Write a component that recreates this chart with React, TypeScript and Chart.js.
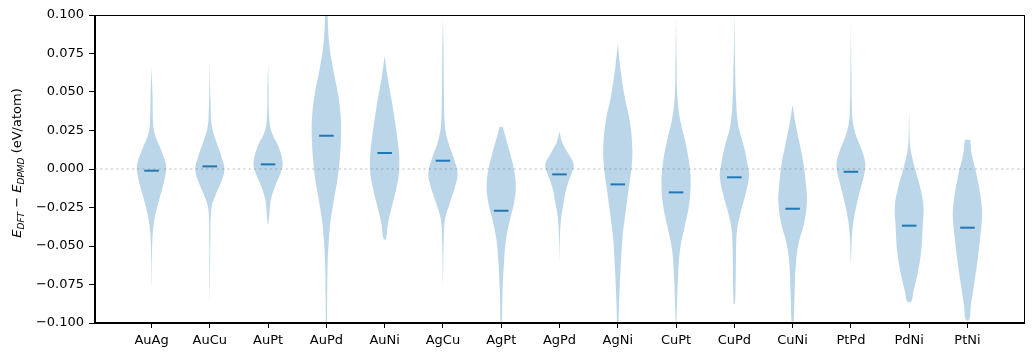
import { useEffect, useRef } from 'react';
import { Chart, registerables } from 'chart.js';

Chart.register(...registerables);

const categories = ['AuAg', 'AuCu', 'AuPt', 'AuPd', 'AuNi', 'AgCu', 'AgPt', 'AgPd', 'AgNi', 'CuPt', 'CuPd', 'CuNi', 'PtPd', 'PdNi', 'PtNi'];

const medians = [-0.0011, 0.0017, 0.003, 0.0216, 0.0104, 0.0054, -0.0271, -0.0035, -0.01, -0.0152, -0.0054, -0.0258, -0.0018, -0.0368, -0.0381];

// violin profiles: [value, relative width (0..1)] from top to bottom
const AuAg = [[0.066, 0], [0.047, 0.07], [0.028, 0.12], [0.021, 0.28], [0.0125, 0.65], [0.002, 1.0], [-0.005, 0.93], [-0.0156, 0.65], [-0.026, 0.35], [-0.035, 0.16], [-0.048, 0.05], [-0.076, 0]];
const AuCu = [[0.071, 0], [0.043, 0.05], [0.028, 0.14], [0.017, 0.47], [0.008, 0.8], [-0.0005, 1.0], [-0.009, 0.75], [-0.018, 0.35], [-0.026, 0.1], [-0.048, 0.035], [-0.07, 0.02], [-0.089, 0]];
const AuPt = [[0.07, 0], [0.054, 0.035], [0.032, 0.09], [0.023, 0.28], [0.015, 0.7], [0.004, 1.0], [-0.0026, 0.85], [-0.0113, 0.47], [-0.02, 0.19], [-0.031, 0.07], [-0.0362, 0]];
const AuPd = [[0.106, 0.06], [0.082, 0.19], [0.0645, 0.47], [0.0493, 0.79], [0.0342, 0.98], [0.0212, 1.0], [0.0082, 0.93], [-0.0048, 0.79], [-0.0178, 0.56], [-0.031, 0.33], [-0.0437, 0.19], [-0.061, 0.09], [-0.083, 0.05], [-0.1, 0.035], [-0.104, 0]];
const AuNi = [[0.0736, 0], [0.06, 0.19], [0.043, 0.51], [0.0255, 0.79], [0.0104, 0.98], [-0.0005, 1.0], [-0.0091, 0.88], [-0.022, 0.56], [-0.035, 0.23], [-0.0455, 0.08]];
const AgCu = [[0.098, 0], [0.082, 0.035], [0.049, 0.07], [0.028, 0.14], [0.017, 0.37], [0.0082, 0.7], [-0.0026, 1.0], [-0.0113, 0.84], [-0.022, 0.47], [-0.033, 0.14], [-0.048, 0.05], [-0.074, 0]];
const AgPt = [[0.0272, 0.11], [0.0212, 0.28], [0.0104, 0.6], [-0.0005, 0.88], [-0.0113, 1.0], [-0.022, 0.88], [-0.033, 0.6], [-0.046, 0.33], [-0.061, 0.19], [-0.08, 0.09], [-0.1, 0.045], [-0.104, 0]];
const AgPd = [[0.0244, 0], [0.017, 0.19], [0.0104, 0.58], [0.0028, 0.98], [-0.0026, 0.84], [-0.0113, 0.51], [-0.022, 0.28], [-0.031, 0.12], [-0.044, 0.035], [-0.059, 0]];
const AgNi = [[0.081, 0], [0.0645, 0.19], [0.047, 0.47], [0.03, 0.84], [0.0125, 1.0], [-0.0005, 0.93], [-0.0134, 0.74], [-0.0264, 0.56], [-0.044, 0.33], [-0.0654, 0.19], [-0.087, 0.09], [-0.1, 0.05], [-0.104, 0]];
const CuPt = [[0.099, 0], [0.071, 0.035], [0.047, 0.09], [0.032, 0.28], [0.017, 0.65], [0.0017, 0.93], [-0.0113, 1.0], [-0.024, 0.88], [-0.037, 0.6], [-0.052, 0.28], [-0.07, 0.14], [-0.087, 0.07], [-0.1, 0.025], [-0.104, 0]];
const CuPd = [[0.101, 0], [0.071, 0.045], [0.045, 0.12], [0.028, 0.28], [0.015, 0.65], [0.0017, 0.93], [-0.0048, 1.0], [-0.0156, 0.79], [-0.0286, 0.42], [-0.0394, 0.19], [-0.052, 0.12], [-0.074, 0.09], [-0.087, 0.045], [-0.088, 0]];
const CuNi = [[0.0418, 0], [0.03, 0.19], [0.017, 0.47], [0.004, 0.74], [-0.0113, 0.93], [-0.022, 0.98], [-0.035, 0.79], [-0.048, 0.42], [-0.061, 0.23], [-0.08, 0.14], [-0.1, 0.07], [-0.104, 0]];
const PtPd = [[0.095, 0], [0.062, 0.035], [0.0385, 0.07], [0.03, 0.14], [0.0212, 0.37], [0.0125, 0.74], [0.004, 0.98], [-0.0026, 0.93], [-0.0113, 0.7], [-0.022, 0.42], [-0.033, 0.19], [-0.044, 0.07], [-0.06, 0]];
const PdNi = [[0.0396, 0], [0.017, 0.045], [0.0104, 0.14], [-0.0005, 0.42], [-0.0113, 0.74], [-0.024, 0.98], [-0.037, 0.93], [-0.052, 0.84], [-0.067, 0.6], [-0.08, 0.28], [-0.086, 0.14]];
const PtNi = [[0.019, 0.19], [0.0104, 0.28], [-0.0048, 0.65], [-0.02, 0.93], [-0.031, 1.0], [-0.0437, 0.88], [-0.059, 0.7], [-0.074, 0.47], [-0.089, 0.23], [-0.098, 0.12]];

const profiles = [AuAg, AuCu, AuPt, AuPd, AuNi, AgCu, AgPt, AgPd, AgNi, CuPt, CuPd, CuNi, PtPd, PdNi, PtNi];

const yMin = -0.1;
const yMax = 0.1;
const yStep = 0.025;
const xMin = -0.97;
const xMax = 14.97;

const HALF_WIDTH = 0.25;
const MEDIAN_HALF = 0.125;
const FONT = 'DejaVu Sans';

function violinPolygon(i: number, prof: number[][]) {
  const right = prof.map(([v, w]) => ({ x: i + HALF_WIDTH * w, y: v }));
  const left = prof
    .filter(([, w]) => w > 0)
    .reverse()
    .map(([v, w]) => ({ x: i - HALF_WIDTH * w, y: v }));
  return [...right, ...left];
}

const frameAndTitle = {
  id: 'frameAndTitle',
  afterDraw(chart: any) {
    const { ctx, chartArea } = chart;
    ctx.save();
    ctx.strokeStyle = '#000';
    ctx.lineWidth = 1;
    ctx.strokeRect(
      Math.round(chartArea.left) - 0.5,
      Math.round(chartArea.top) + 0.5,
      Math.round(chartArea.right - chartArea.left) + 1,
      Math.round(chartArea.bottom - chartArea.top) - 1
    );
    ctx.restore();

    // y-axis title with subscripts
    const parts = [
      { t: 'E', f: `italic 13px "${FONT}"`, dy: 0 },
      { t: 'DFT', f: `italic 9px "${FONT}"`, dy: 2.5 },
      { t: ' \u2212 ', f: `13px "${FONT}"`, dy: 0 },
      { t: 'E', f: `italic 13px "${FONT}"`, dy: 0 },
      { t: 'DPMD', f: `italic 9px "${FONT}"`, dy: 2.5 },
      { t: ' (eV/atom)', f: `13px "${FONT}"`, dy: 0 },
    ];
    ctx.save();
    let total = 0;
    const widths = parts.map((p) => {
      ctx.font = p.f;
      const w = ctx.measureText(p.t).width;
      total += w;
      return w;
    });
    const cy = 163;
    ctx.translate(21, cy);
    ctx.rotate(-Math.PI / 2);
    ctx.fillStyle = '#000';
    ctx.textBaseline = 'alphabetic';
    ctx.textAlign = 'left';
    let x = -total / 2;
    parts.forEach((p, k) => {
      ctx.font = p.f;
      ctx.fillText(p.t, x, p.dy);
      x += widths[k];
    });
    ctx.restore();
  },
};

export default function App() {
  const ref = useRef<HTMLCanvasElement>(null);

  useEffect(() => {
    if (!ref.current) return;
    const datasets: any[] = [];
    medians.forEach((m, i) => {
      datasets.push({
        label: 'median ' + categories[i],
        data: [
          { x: i - MEDIAN_HALF, y: m },
          { x: i + MEDIAN_HALF, y: m },
        ],
        borderColor: '#1f77b4',
        borderWidth: 2,
        pointRadius: 0,
        fill: false,
        tension: 0,
      });
    });
    profiles.forEach((prof, i) => {
      datasets.push({
        label: categories[i],
        data: violinPolygon(i, prof),
        borderColor: 'rgba(31,119,180,0)',
        borderWidth: 0,
        backgroundColor: 'rgba(31,119,180,0.3)',
        pointRadius: 0,
        fill: 'shape',
        tension: 0.4,
      });
    });
    datasets.push({
      label: 'zero',
      data: [
        { x: xMin, y: 0 },
        { x: xMax, y: 0 },
      ],
      borderColor: 'rgba(128,128,128,0.35)',
      borderWidth: 1.5,
      borderDash: [2, 3.3],
      pointRadius: 0,
      fill: false,
    });

    const chart = new Chart(ref.current, {
      type: 'line',
      data: { datasets },
      options: {
        animation: false,
        responsive: false,
        devicePixelRatio: 1,
        parsing: false as any,
        normalized: false,
        layout: { padding: { top: 15, right: 10, left: 0, bottom: 0 } },
        plugins: {
          legend: { display: false },
          tooltip: { enabled: false },
          title: { display: false },
        },
        scales: {
          x: {
            type: 'linear',
            min: xMin,
            max: xMax,
            afterBuildTicks: (s: any) => {
              s.ticks = categories.map((_, i) => ({ value: i }));
            },
            afterFit: (s: any) => {
              s.height = 34;
            },
            grid: { drawOnChartArea: false, drawTicks: true, tickLength: 5, color: '#000' },
            border: { display: true, color: '#000', width: 1 },
            ticks: {
              autoSkip: false,
              maxRotation: 0,
              padding: 5,
              color: '#000',
              font: { family: FONT, size: 13 },
              callback: (v: any) => categories[Math.round(Number(v))] ?? '',
            },
          },
          y: {
            type: 'linear',
            min: yMin,
            max: yMax,
            afterFit: (s: any) => {
              s.width = 95;
            },
            grid: { drawOnChartArea: false, drawTicks: true, tickLength: 6, color: '#000' },
            border: { display: true, color: '#000', width: 1 },
            ticks: {
              stepSize: yStep,
              padding: 5,
              color: '#000',
              font: { family: FONT, size: 13 },
              callback: (v: any) => {
                const n = Number(v);
                if (Math.abs(n) < 1e-9) return '0.000';
                return n.toFixed(3).replace('-', '\u2212');
              },
            },
          },
        },
      },
      plugins: [frameAndTitle],
    });
    return () => chart.destroy();
  }, []);

  return (
    <div style={{ position: 'fixed', left: 0, top: 0, width: 1034, height: 357, background: '#fff' }}>
      <canvas ref={ref} width={1034} height={357} style={{ display: 'block' }} />
    </div>
  );
}
